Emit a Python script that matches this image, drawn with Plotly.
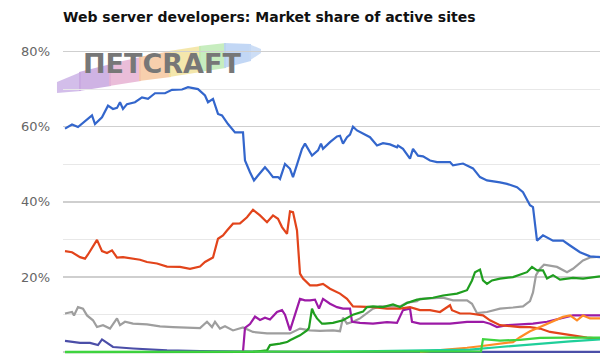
import plotly.graph_objects as go

# time in years since the start of the survey window, share in percent
apache_t = [0.08,0.36,0.60,1.00,1.16,1.28,1.56,1.80,2.00,2.16,2.28,2.40,2.56,2.88,3.16,3.40,3.68,4.08,4.36,4.76,5.00,5.40,5.68,5.80,6.00,6.20,6.36,6.60,6.88,7.20,7.28,7.48,7.64,7.80,7.96,8.08,8.20,8.40,8.60,8.68,8.88,9.08,9.20,9.40,9.56,9.68,9.96,10.20,10.32,10.40,10.68,10.96,11.08,11.20,11.36,11.48,11.60,11.76,12.00,12.28,12.56,12.80,13.08,13.36,13.40,13.60,13.88,14.00,14.20,14.40,14.68,14.96,15.48,15.60,16.00,16.40,16.68,16.96,17.48,17.76,18.16,18.40,18.68,18.80,18.96,19.20,19.60,20.00,20.28,20.68,21.08,21.48]
apache_v = [59.5,60.6,59.9,62.1,63.0,60.7,62.5,65.6,64.7,65.0,66.5,64.7,66.0,66.5,67.8,67.4,68.9,68.9,69.8,69.9,70.5,70.0,68.3,66.5,67.4,63.4,63.0,60.7,58.5,58.5,51.0,47.9,45.7,47.0,48.3,49.2,48.3,46.6,46.6,46.1,50.1,48.8,46.6,51.0,54.1,55.5,52.3,53.7,55.5,54.1,55.9,57.4,57.6,55.5,57.2,57.9,60.0,59.0,58.1,57.2,55.0,55.6,55.3,54.5,55.0,54.1,51.5,54.1,52.3,52.1,51.0,50.6,50.6,49.7,50.2,48.9,46.6,45.7,45.2,44.8,43.9,42.6,39.1,38.6,29.7,31.1,29.7,29.7,28.4,26.6,25.5,25.3]

microsoft_t = [0.08,0.36,0.68,0.88,1.00,1.20,1.36,1.56,1.76,1.96,2.16,2.40,2.80,3.08,3.36,3.76,4.16,4.68,5.08,5.48,5.68,6.00,6.20,6.40,6.56,6.80,7.08,7.36,7.60,7.88,8.16,8.40,8.60,8.76,8.96,9.08,9.20,9.36,9.48,9.60,9.88,10.16,10.40,10.68,11.08,11.36,11.60,12.00,12.40,12.96,13.48,13.88,14.28,14.68,15.08,15.48,15.56,15.88,16.28,16.80,17.08,17.48,17.88,18.28,18.68,19.08,19.48,19.88,20.40,20.96,21.48]
microsoft_v = [26.9,26.6,25.3,24.9,26.0,28.0,29.9,26.9,26.4,27.1,25.2,25.3,24.9,24.6,24.0,23.6,22.8,22.7,22.2,22.8,24.0,25.2,30.2,31.1,32.4,34.2,34.3,35.9,37.9,36.4,34.6,36.4,35.5,33.3,31.5,37.5,37.3,32.4,20.9,19.6,17.8,17.8,18.2,16.9,15.6,14.2,12.2,12.2,12.0,11.6,11.6,12.0,11.2,11.2,10.7,12.5,11.2,10.3,10.3,9.8,8.5,7.2,6.9,6.7,6.7,6.3,5.4,5.0,4.5,3.9,3.6]

other_t = [0.08,0.36,0.44,0.60,0.80,0.96,1.20,1.36,1.60,1.88,2.16,2.28,2.48,2.80,3.36,3.88,4.40,4.96,5.48,5.76,5.96,6.08,6.28,6.48,6.80,7.20,7.60,8.16,8.68,9.08,9.48,9.88,10.28,10.80,11.08,11.20,11.36,11.60,11.88,12.16,12.40,12.68,12.96,13.48,13.76,14.16,14.28,14.80,15.20,15.60,16.16,16.36,16.56,16.96,17.48,18.00,18.40,18.68,18.80,18.92,19.08,19.24,19.76,20.16,20.40,20.80,21.08,21.48]
other_v = [10.3,10.7,9.8,12.0,11.6,9.8,8.5,6.7,7.2,6.3,9.0,7.2,8.1,7.6,7.4,6.9,6.7,6.6,6.4,8.1,6.7,8.1,6.3,6.9,5.8,6.6,5.4,5.0,5.0,5.0,6.3,5.8,5.7,5.8,5.6,9.2,7.6,8.1,9.0,10.5,11.6,12.2,12.2,12.2,13.2,13.6,14.2,14.3,14.5,13.8,13.8,12.9,10.4,10.7,11.6,11.9,12.2,13.6,15.9,20.5,22.2,23.3,22.7,21.3,22.2,24.4,25.2,25.4]

google_t = [7.20,7.28,7.48,7.68,7.88,8.08,8.28,8.56,8.76,8.88,9.08,9.28,9.48,9.68,9.88,10.08,10.24,10.40,10.68,10.96,11.20,11.48,11.56,11.88,12.40,12.96,13.36,13.60,13.88,13.96,14.28,14.80,15.48,16.16,16.80,17.08,17.36,17.76,18.28,18.80,19.36,19.88,20.40,20.96,21.48]
google_v = [0.2,6.5,7.5,9.5,8.6,9.2,8.7,10.7,11.2,10.0,5.8,10.0,14.2,13.8,13.8,14.0,11.6,14.2,12.9,12.0,11.6,11.6,8.1,7.8,7.6,8.0,7.8,11.2,11.6,8.1,7.6,7.6,7.6,8.1,8.1,7.6,6.7,7.2,7.4,7.6,8.1,9.0,9.8,9.8,9.8]

nginx_t = [0.08,3.00,6.00,7.60,8.16,8.28,8.68,8.96,9.08,9.36,9.48,9.76,9.84,9.96,10.04,10.16,10.36,10.48,10.80,11.20,11.60,12.00,12.16,12.40,12.80,13.20,13.48,13.76,14.16,14.80,15.20,15.76,16.16,16.36,16.48,16.68,16.80,16.96,17.16,17.48,18.00,18.56,18.76,18.96,19.20,19.36,19.60,19.88,20.40,20.80,21.48]
nginx_v = [0.0,0.0,0.0,0.1,0.5,1.9,2.3,2.7,3.2,4.1,4.5,5.8,6.5,11.6,10.3,9.0,7.6,7.6,7.8,8.5,10.0,10.8,12.0,12.2,12.0,12.7,12.0,13.1,14.0,14.5,15.1,15.6,16.5,19.1,21.3,22.0,19.1,18.2,19.1,19.6,20.0,21.3,22.7,21.8,21.8,19.6,20.5,19.3,19.8,19.6,20.2]

zeus_t = [0.08,0.68,1.08,1.40,1.56,1.76,2.00,2.80,4.16,5.48,6.80,9.48,21.48]
zeus_v = [3.0,2.5,2.5,1.9,3.4,2.5,1.4,1.0,0.5,0.3,0.2,0.1,0.1]

litespeed_t = [0.08,5.00,10.00,15.00,16.72,16.80,17.48,18.28,19.08,20.28,21.48]
litespeed_v = [0.1,0.1,0.1,0.2,0.2,3.5,3.1,3.3,3.8,3.9,3.9]

openresty_t = [10.68,13.48,15.08,16.28,17.48,19.08,20.28,21.48]
openresty_v = [0.1,0.3,0.5,0.7,1.4,2.3,2.9,3.4]

cloudflare_t = [14.28,15.08,16.16,16.68,17.48,18.00,18.28,18.68,19.08,19.48,20.00,20.28,20.56,20.80,21.08,21.48]
cloudflare_v = [0.1,0.5,1.2,1.6,2.3,2.7,4.0,5.6,6.7,7.8,9.4,9.8,8.5,9.8,9.0,9.0]

series = [
    ("Zeus", zeus_t, zeus_v, "#4b4ea8"),
    ("Other", other_t, other_v, "#9e9e9e"),
    ("Google", google_t, google_v, "#9c1aa6"),
    ("Microsoft", microsoft_t, microsoft_v, "#e2441b"),
    ("Cloudflare", cloudflare_t, cloudflare_v, "#ff8c26"),
    ("OpenResty", openresty_t, openresty_v, "#1fcf9a"),
    ("nginx", nginx_t, nginx_v, "#1f9e1f"),
    ("LiteSpeed", litespeed_t, litespeed_v, "#3fd43f"),
    ("Apache", apache_t, apache_v, "#3366cc"),
]

fig = go.Figure()
for name, t, v, c in series:
    fig.add_trace(go.Scatter(x=t, y=v, name=name, mode="lines",
                             line=dict(color=c, width=2.2), hoverinfo="skip"))

L, T, W, H = 63, 44, 537, 312

def P(px, py):
    return (px - L) / W, (T + H - py) / H

# Netcraft logo swoosh (decoration)
band = [(58, 82, 93), (80, 72, 91), (110, 64, 86), (140, 57, 81), (170, 51, 77),
        (200, 46, 72), (225, 43, 68), (250, 44, 61), (260, 49, 53)]
cols = ["#cbb3e6", "#c7a6df", "#e6b2d2", "#f6c79f", "#f2e39e", "#bdeab4", "#b7d0f3", "#c4d8f5"]
shapes = []
for i in range(len(band) - 1):
    x0, t0, b0 = band[i]
    x1, t1, b1 = band[i + 1]
    pts = [P(x0 - 1, t0), P(x1 + 1, t1), P(x1 + 1, b1), P(x0 - 1, b0)]
    path = "M " + " L ".join(f"{a:.4f},{b:.4f}" for a, b in pts) + " Z"
    shapes.append(dict(type="path", path=path, xref="paper", yref="paper",
                       fillcolor=cols[i], line=dict(width=0), opacity=0.85, layer="below"))

lx, ly = P(162, 63)
fig.add_annotation(text="<b>ΠETCRAFT</b>", xref="paper", yref="paper", x=lx, y=ly,
                   xanchor="center", yanchor="middle", showarrow=False,
                   font=dict(family="DejaVu Sans", size=27, color="#777777"))

fig.update_layout(
    width=600, height=358,
    margin=dict(l=L, r=600 - L - W, t=T, b=358 - T - H, autoexpand=False),
    paper_bgcolor="white", plot_bgcolor="white",
    showlegend=False,
    shapes=shapes,
    title=dict(text="<b>Web server developers: Market share of active sites</b>",
               x=63 / 600, xanchor="left", xref="container",
               y=1 - 17 / 358, yanchor="middle", yref="container",
               font=dict(family="DejaVu Sans", size=14, color="#111111")),
    xaxis=dict(range=[0, 21.48], showgrid=False, showticklabels=False, ticks="",
               zeroline=False, showline=False),
    yaxis=dict(range=[-1, 82], dtick=20, tick0=0, ticksuffix="%",
               showgrid=True, gridcolor="#cfcfcf", gridwidth=1.5,
               zeroline=False, showline=False, ticks="",
               ticklabelstandoff=12,
               tickfont=dict(family="DejaVu Sans", size=13, color="#666666"),
               minor=dict(dtick=10, tick0=0, showgrid=True, gridcolor="#e8e8e8", gridwidth=1)),
)

fig.write_html("out.html", config={"displayModeBar": False, "staticPlot": True},
               post_script="document.body.style.margin='0';")
